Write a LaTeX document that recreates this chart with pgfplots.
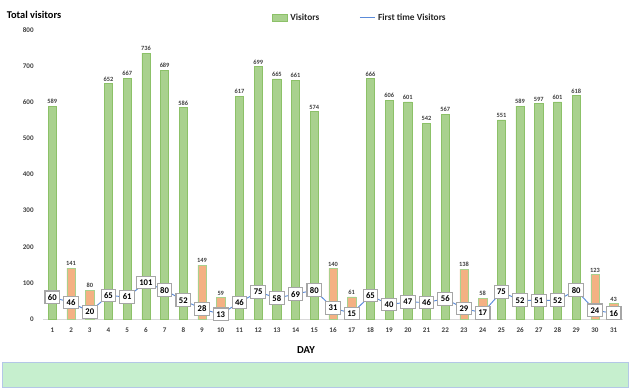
\documentclass[border=0pt]{standalone}
\usepackage{pgfplots}
\pgfplotsset{compat=1.18}
\usepackage{pgfplotstable}
\usepackage{fontspec}
\setmainfont{Carlito}
\definecolor{barg}{HTML}{A9D18E}
\definecolor{bargd}{HTML}{8CC168}
\definecolor{baro}{HTML}{F4B183}
\definecolor{linec}{HTML}{5B8BD9}
\definecolor{txt}{HTML}{404040}
\definecolor{boxc}{HTML}{A6A6A6}
\definecolor{bandf}{HTML}{C6EFCE}
\definecolor{bandd}{HTML}{B4C7E7}

\pgfplotstableread{
x y
1 589
4 652
5 667
6 736
7 689
8 586
11 617
12 699
13 665
14 661
15 574
18 666
19 606
20 601
21 542
22 567
25 551
26 589
27 597
28 601
29 618
}\greendata

\pgfplotstableread{
x y
2 141
3 80
9 149
10 59
16 140
17 61
23 138
24 58
30 123
31 43
}\orangedata

\pgfplotstableread{
x y
1 60
2 46
3 20
4 65
5 61
6 101
7 80
8 52
9 28
10 13
11 46
12 75
13 58
14 69
15 80
16 31
17 15
18 65
19 40
20 47
21 46
22 56
23 29
24 17
25 75
26 52
27 51
28 52
29 80
30 24
31 16
}\linedata

\begin{document}
\begin{tikzpicture}
\useasboundingbox (0pt,0pt) rectangle (472.5pt,-292.5pt);
% bottom band
\filldraw[fill=bandf, draw=bandd, line width=0.6pt] (1.5pt,-271.5pt) rectangle (471pt,-290.25pt);
\node[inner sep=0pt, font=\bfseries\fontsize{7.8}{9}\selectfont, text=black] at (25.5pt,-11.5pt) {Total\ visitors};
\begin{axis}[
  at={(32.25pt,-239.25pt)}, anchor=south west,
  scale only axis, width=435pt, height=216.75pt,
  xmin=0.5, xmax=31.5, ymin=0, ymax=800,
  clip=false,
  xlabel={DAY},
  xlabel style={at={(197.25pt,-23.25pt)}, anchor=center, inner sep=0pt,
    font=\bfseries\fontsize{8}{9.5}\selectfont, text=black},
  axis x line*=bottom, axis y line*=left,
  x axis line style={draw=black!15, line width=0.6pt, -},
  y axis line style={draw=none},
  major tick length=0pt,
  xtick={1,...,31},
  ytick={0,100,...,800},
  /pgf/number format/assume math mode=true,
  tick label style={font=\bfseries\fontsize{5.3}{6}\selectfont, text=txt},
  yticklabel style={xshift=-3.5pt},
  xticklabel style={yshift=-3pt},
  legend style={at={(0.547,1.042)}, anchor=center, draw=none, fill=none,
    legend columns=2, font=\bfseries\fontsize{7}{8}\selectfont, text=black!85,
    /tikz/every even column/.append style={column sep=28pt},
    inner sep=0pt},
]
\addplot[ybar, bar width=6.2pt, bar shift=0pt, fill=barg, draw=bargd, line width=0.4pt,
  nodes near coords, nodes near coords style={font=\bfseries\fontsize{4.8}{5}\selectfont, text=txt, inner sep=1.5pt},
  legend image code/.code={\fill[barg, draw=bargd] (0pt,-2.4pt) rectangle (11.25pt,2.4pt);}]
  table[x=x,y=y]{\greendata};
\addlegendentry{Visitors}
\addplot[ybar, bar width=6.2pt, bar shift=0pt, fill=baro, draw=barg, line width=0.4pt, forget plot,
  nodes near coords, nodes near coords style={font=\bfseries\fontsize{4.8}{5}\selectfont, text=txt, inner sep=1.5pt}]
  table[x=x,y=y]{\orangedata};
\addplot[color=linec, line width=0.7pt, mark=none,
  nodes near coords,
  nodes near coords style={anchor=center, font=\bfseries\fontsize{6.5}{7}\selectfont, text=black,
    fill=white, draw=boxc, line width=0.8pt, inner xsep=2.2pt, inner ysep=1.8pt, minimum height=9.5pt},
  legend image code/.code={\draw[color=linec, line width=0.9pt] (0pt,0pt) -- (11.25pt,0pt);}]
  table[x=x,y=y]{\linedata};
\addlegendentry{First time Visitors}
\end{axis}
\end{tikzpicture}
\end{document}
